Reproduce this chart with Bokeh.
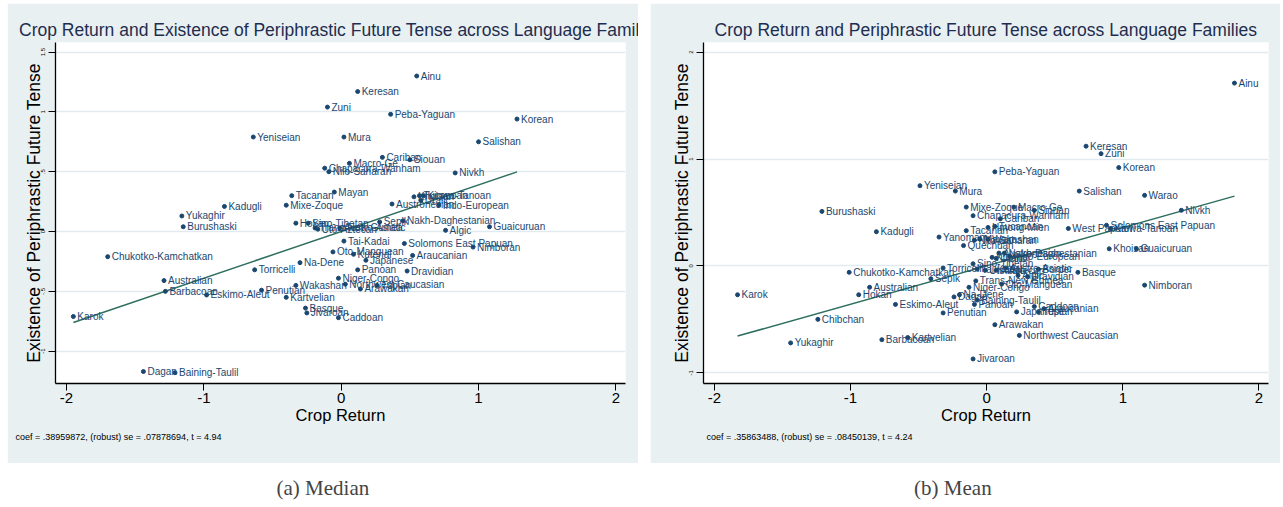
from bokeh.plotting import figure
from bokeh.models import FixedTicker, Title, Label, Range1d, Spacer
from bokeh.layouts import row, column
from bokeh.core.properties import value
from bokeh.embed import file_html
from bokeh.resources import INLINE

# ---------------- data: panel (a) Median ----------------
names_a = ["Ainu", "Keresan", "Zuni", "Peba-Yaguan", "Korean", "Yeniseian", "Mura", "Salishan",
           "Cariban", "Siouan", "Macro-Ge", "Chapacura-Wanham", "Nilo-Saharan", "Nivkh", "Mayan",
           "Tacanan", "Mixe-Zoque", "Kadugli", "Yukaghir", "Burushaski", "Khoisan", "Tucanoan",
           "Uralic", "Kiowa-Tanoan", "Austronesian", "Indo-European", "Hokan", "Sino-Tibetan",
           "Trans-New Guinea", "Uto-Aztecan", "Austro-Asiatic", "Sepik", "Nakh-Daghestanian",
           "Guaicuruan", "Algic", "Tai-Kadai", "Solomons East Papuan", "Nimboran", "Oto-Manguean",
           "Kutenai", "Japanese", "Araucanian", "Na-Dene", "Panoan", "Dravidian", "Torricelli",
           "Niger-Congo", "Northwest Caucasian", "Tupian", "Arawakan", "Wakashan", "Penutian",
           "Kartvelian", "Eskimo-Aleut", "Australian", "Barbacoan", "Basque", "Jivaroan", "Caddoan",
           "Chukotko-Kamchatkan", "Karok", "Dagan", "Baining-Taulil"]
crop_a = [0.55, 0.12, -0.10, 0.36, 1.28, -0.64, 0.02, 1.00,
          0.30, 0.50, 0.06, -0.12, -0.09, 0.83, -0.05,
          -0.36, -0.40, -0.85, -1.16, -1.15, 0.53, 0.57,
          0.58, 0.60, 0.37, 0.71, -0.33, -0.24,
          -0.19, -0.17, -0.01, 0.28, 0.45,
          1.08, 0.76, 0.02, 0.46, 0.96, -0.06,
          0.09, 0.18, 0.52, -0.30, 0.12, 0.48, -0.63,
          -0.02, 0.03, 0.26, 0.14, -0.33, -0.58,
          -0.40, -0.98, -1.29, -1.28, -0.26, -0.25, -0.02,
          -1.70, -1.95, -1.44, -1.21]
fut_a = [1.30, 1.17, 1.04, 0.98, 0.94, 0.79, 0.79, 0.75,
         0.62, 0.60, 0.57, 0.53, 0.50, 0.49, 0.33,
         0.30, 0.22, 0.21, 0.13, 0.04, 0.29, 0.30,
         0.26, 0.30, 0.23, 0.22, 0.07, 0.07,
         0.03, 0.02, 0.03, 0.08, 0.09,
         0.04, 0.01, -0.08, -0.10, -0.13, -0.17,
         -0.19, -0.24, -0.20, -0.26, -0.32, -0.33, -0.32,
         -0.39, -0.44, -0.45, -0.48, -0.45, -0.49,
         -0.55, -0.53, -0.41, -0.50, -0.64, -0.68, -0.72,
         -0.21, -0.71, -1.17, -1.18]
coef_a = 0.38959872
const_a = 0.0
note_a = "coef = .38959872, (robust) se = .07878694, t = 4.94"
title_a = "Crop Return and Existence of Periphrastic Future Tense across Language Families"
yticks_a = [-1, -0.5, 0, 0.5, 1, 1.5]
ylabels_a = ["-1", "-.5", "0", ".5", "1", "1.5"]

# ---------------- data: panel (b) Mean ----------------
names_b = ["Ainu", "Keresan", "Zuni", "Korean", "Peba-Yaguan", "Yeniseian", "Mura", "Salishan",
           "Warao", "Nivkh", "Burushaski", "Mixe-Zoque", "Macro-Ge", "Siouan", "Chapacura-Wanham",
           "Cariban", "Tucanoan", "Hmong-Mien", "Tacanan", "West Papuan", "Solomons East Papuan",
           "Kiowa-Tanoan", "Kadugli", "Yanomam", "Nilo-Saharan", "Wakashan", "Mayan", "Quechuan",
           "Khoisan", "Guaicuruan", "Austronesian", "Nakh-Daghestanian", "Indo-European", "Kutenai",
           "Uralic", "Sino-Tibetan", "Tai-Kadai", "Uto-Aztecan", "Altaic", "Austro-Asiatic",
           "Torricelli", "Chukotko-Kamchatkan", "Border", "Basque", "Algic", "Dravidian", "Sepik",
           "Trans-New Guinea", "Oto-Manguean", "Nimboran", "Niger-Congo", "Australian", "Hokan",
           "Karok", "Na-Dene", "Dagan", "Baining-Taulil", "Panoan", "Eskimo-Aleut", "Caddoan",
           "Araucanian", "Japanese", "Tupian", "Penutian", "Chibchan", "Arawakan",
           "Northwest Caucasian", "Kartvelian", "Barbacoan", "Yukaghir", "Jivaroan"]
crop_b = [1.82, 0.73, 0.84, 0.97, 0.06, -0.49, -0.23, 0.68,
          1.16, 1.43, -1.21, -0.15, 0.20, 0.35, -0.10,
          0.10, 0.06, 0.01, -0.15, 0.60, 0.88,
          0.91, -0.81, -0.35, -0.09, 0.01, -0.05, -0.17,
          0.90, 1.10, 0.09, 0.13, 0.17, 0.04,
          0.07, -0.10, -0.07, -0.01, 0.07, 0.14,
          -0.32, -1.01, 0.38, 0.67, 0.23, 0.30, -0.41,
          -0.08, 0.11, 1.16, -0.13, -0.86, -0.94,
          -1.83, -0.20, -0.24, -0.07, -0.09, -0.67, 0.35,
          0.42, 0.22, 0.38, -0.32, -1.24, 0.06,
          0.24, -0.58, -0.77, -1.44, -0.10]
fut_b = [1.71, 1.12, 1.05, 0.92, 0.88, 0.75, 0.70, 0.70,
         0.66, 0.52, 0.51, 0.55, 0.55, 0.52, 0.47,
         0.44, 0.37, 0.36, 0.33, 0.35, 0.38,
         0.35, 0.32, 0.27, 0.24, 0.25, 0.25, 0.19,
         0.16, 0.16, 0.12, 0.12, 0.09, 0.08,
         0.07, 0.02, -0.03, -0.04, -0.04, -0.02,
         -0.02, -0.06, -0.03, -0.06, -0.09, -0.10, -0.12,
         -0.14, -0.17, -0.18, -0.20, -0.20, -0.27,
         -0.27, -0.27, -0.29, -0.32, -0.36, -0.36, -0.38,
         -0.40, -0.43, -0.43, -0.44, -0.50, -0.55,
         -0.65, -0.67, -0.69, -0.72, -0.87]
coef_b = 0.35863488
const_b = 0.0
note_b = "coef = .35863488, (robust) se = .08450139, t = 4.24"
title_b = "Crop Return and Periphrastic Future Tense across Language Families"
yticks_b = [-1, 0, 1, 2]
ylabels_b = ["-1", "0", "1", "2"]

xticks = [-2, -1, 0, 1, 2]
xlabels = ["-2", "-1", "0", "1", "2"]

BG = "#E9F0F2"
GRID = "#E1EAEE"
NAVY = "#1A476F"
LINE = "#2D6E5E"
TITLE_C = "#1E2D4F"
SANS = "Liberation Sans"


def panel(width, bl, br, title, title_off, names, xs, ys, yr, yt, yl, coef, const, note, note_off):
    p = figure(width=width, height=460, x_range=Range1d(-2.08, 2.07), y_range=Range1d(*yr),
               output_backend="svg", toolbar_location=None,
               min_border_left=bl, min_border_right=br, min_border_top=39, min_border_bottom=80)
    p.background_fill_color = "white"
    p.border_fill_color = BG
    p.outline_line_color = None
    p.title.text = title
    p.title.align = "center"
    p.title.offset = title_off
    p.title.text_font = SANS
    p.title.text_font_size = "17.5px"
    p.title.text_font_style = "normal"
    p.title.text_color = TITLE_C
    p.title.standoff = 6

    p.xaxis.ticker = FixedTicker(ticks=xticks)
    p.xaxis.major_label_overrides = dict(zip(xticks, xlabels))
    p.yaxis.ticker = FixedTicker(ticks=yt)
    p.yaxis.major_label_overrides = dict(zip(yt, yl))
    for ax in (p.xaxis[0], p.yaxis[0]):
        ax.axis_line_color = "black"
        ax.axis_line_width = 1.3
        ax.major_tick_line_color = "black"
        ax.major_tick_in = 0
        ax.major_tick_out = 7
        ax.minor_tick_line_color = None
        ax.axis_label_text_font = SANS
        ax.axis_label_text_font_style = "normal"
        ax.axis_label_text_color = "black"
        ax.major_label_text_font = SANS
        ax.major_label_text_color = "black"
    p.xaxis.axis_label = "Crop Return"
    p.xaxis.axis_label_text_font_size = "16.5px"
    p.xaxis.major_label_text_font_size = "15px"
    p.xaxis.major_label_standoff = 2
    p.xaxis.axis_label_standoff = 0
    p.yaxis.axis_label = "Existence of Periphrastic Future Tense"
    p.yaxis.axis_label_text_font_size = "17.5px"
    p.yaxis.major_label_text_font_size = "6px"
    p.yaxis.major_label_orientation = "vertical"
    p.yaxis.major_label_standoff = 3
    p.yaxis.axis_label_standoff = -5

    p.xgrid.visible = False
    p.ygrid.ticker = FixedTicker(ticks=yt)
    p.ygrid.grid_line_color = GRID
    p.ygrid.grid_line_width = 1.5

    lo, hi = min(xs), max(xs)
    p.line([lo, hi], [const + coef * lo, const + coef * hi], line_color=LINE, line_width=1.5)
    p.scatter(xs, ys, size=4, color=NAVY)
    p.text(xs, ys, text=names, x_offset=4, text_baseline="middle", text_align="left",
           text_font=value(SANS), text_font_size="10px", text_color=NAVY)

    p.add_layout(Title(text=note, align="left", offset=note_off, text_font_size="9px",
                       text_font_style="normal", text_color="black", standoff=6,
                       text_font=SANS), "below")
    return p


pa = panel(631, 48, 13, title_a, -5, names_a, crop_a, fut_a, (-1.27, 1.58), yticks_a, ylabels_a,
           coef_a, const_a, note_a, -40)
pb = panel(630, 53, 12, title_b, 0, names_b, crop_b, fut_b, (-1.10, 2.09), yticks_b, ylabels_b,
           coef_b, const_b, note_b, 3)

cap = figure(width=1273, height=44, x_range=Range1d(0, 1273), y_range=Range1d(0, 44),
             output_backend="svg", toolbar_location=None, min_border=0, outline_line_color=None)
cap.axis.visible = False
cap.grid.visible = False
cap.add_layout(Label(x=318, y=20, text="(a)  Median", text_align="center", text_baseline="middle",
                     text_font="Liberation Serif", text_font_size="21px"))
cap.add_layout(Label(x=948, y=20, text="(b)  Mean", text_align="center", text_baseline="middle",
                     text_font="Liberation Serif", text_font_size="21px"))

body = column(row(pa, Spacer(width=12, height=460), pb, spacing=0), cap, spacing=0)
layout = column(Spacer(height=3, width=1280),
                row(Spacer(width=7, height=504), body, spacing=0), spacing=0)
open("out.html", "w").write(file_html(layout, INLINE))
